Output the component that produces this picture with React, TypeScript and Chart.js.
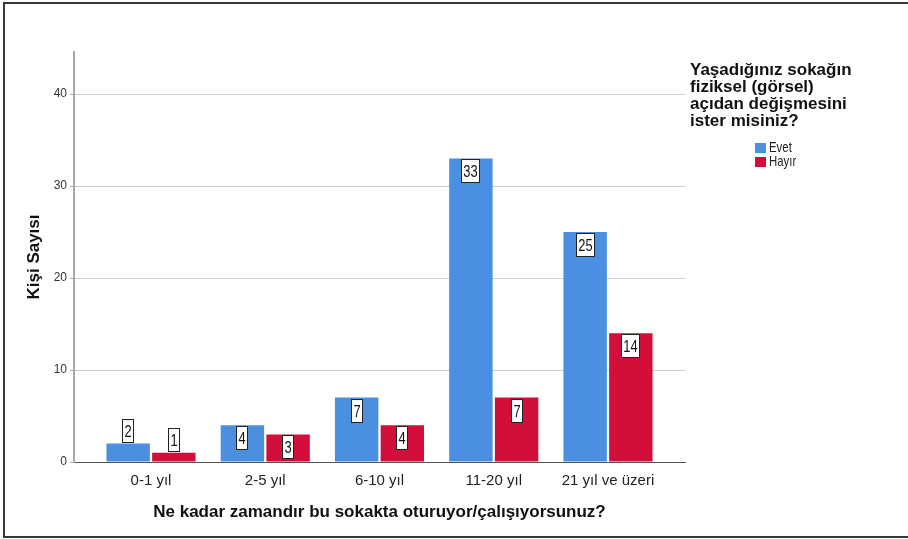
import React, { useEffect, useRef } from 'react';
import { Chart, registerables } from 'chart.js';

Chart.register(...registerables);

const categories = ['0-1 yıl', '2-5 yıl', '6-10 yıl', '11-20 yıl', '21 yıl ve üzeri'];
const evet = [2, 4, 7, 33, 25];
const hayir = [1, 3, 4, 7, 14];
const seriesNames = ['Evet', 'Hayır'];
const seriesColors = ['#4a8fe0', '#d10f3a'];
const yTicks = [0, 10, 20, 30, 40];
const legendTitle = ['Yaşadığınız sokağın', 'fiziksel (görsel)', 'açıdan değişmesini', 'ister misiniz?'];
const xTitle = 'Ne kadar zamandır bu sokakta oturuyor/çalışıyorsunuz?';
const yTitle = 'Kişi Sayısı';

const SANS = '"Liberation Sans", Arial, sans-serif';
const SQUEEZE = 0.76;

const boxLabels = {
  id: 'boxLabels',
  afterDatasetsDraw(chart: any) {
    const ctx = chart.ctx;
    ctx.save();
    ctx.font = '17px ' + SANS;
    ctx.textAlign = 'center';
    ctx.textBaseline = 'middle';
    chart.data.datasets.forEach((ds: any, di: number) => {
      const meta = chart.getDatasetMeta(di);
      meta.data.forEach((bar: any, i: number) => {
        const v = ds.data[i].y;
        const txt = String(v);
        const tw = ctx.measureText(txt).width * SQUEEZE;
        const w = Math.round(tw + 5);
        const h = 24;
        const { x, y, base } = bar.getProps(['x', 'y', 'base'], true);
        const top = Math.round(base - y >= h + 2 ? y + 1 : y - h - 1);
        const left = Math.round(x - w / 2);
        ctx.fillStyle = '#ffffff';
        ctx.fillRect(left, top, w, h);
        ctx.strokeStyle = '#222222';
        ctx.lineWidth = 1;
        ctx.strokeRect(left + 0.5, top + 0.5, w - 1, h - 1);
        ctx.fillStyle = '#111111';
        ctx.save();
        ctx.translate(left + w / 2, top + h / 2 + 1);
        ctx.scale(SQUEEZE, 1);
        ctx.fillText(txt, 0, 0);
        ctx.restore();
      });
    });
    ctx.restore();
  },
};

const sideLegend = {
  id: 'sideLegend',
  afterDraw(chart: any) {
    const ctx = chart.ctx;
    ctx.save();
    ctx.textAlign = 'left';
    ctx.textBaseline = 'middle';
    ctx.fillStyle = '#111111';
    ctx.font = 'bold 17px ' + SANS;
    legendTitle.forEach((t, i) => ctx.fillText(t, 690, 70 + i * 17));
    ctx.font = '15px ' + SANS;
    seriesNames.forEach((name, i) => {
      ctx.fillStyle = seriesColors[i];
      ctx.fillRect(755, 143 + i * 14, 11, 10);
      ctx.fillStyle = '#222222';
      ctx.save();
      ctx.translate(769, 148 + i * 14);
      ctx.scale(SQUEEZE, 1);
      ctx.fillText(name, 0, 0);
      ctx.restore();
    });
    ctx.restore();
  },
};

export default function App() {
  const ref = useRef<HTMLCanvasElement>(null);
  useEffect(() => {
    if (!ref.current) return;
    const chart = new Chart(ref.current, {
      type: 'bar',
      data: {
        datasets: [
          {
            label: seriesNames[0],
            data: evet.map((v, i) => ({ x: i, y: v })),
            backgroundColor: seriesColors[0],
            borderWidth: 0,
          },
          {
            label: seriesNames[1],
            data: hayir.map((v, i) => ({ x: i, y: v })),
            backgroundColor: seriesColors[1],
            borderWidth: 0,
          },
        ],
      },
      plugins: [boxLabels, sideLegend],
      options: {
        animation: false,
        responsive: false,
        devicePixelRatio: 1,
        categoryPercentage: 0.8,
        barPercentage: 0.95,
        layout: { padding: { left: 0, top: 52, right: 223, bottom: 0 } },
        plugins: { legend: { display: false }, tooltip: { enabled: false } },
        scales: {
          x: {
            type: 'linear',
            offset: false,
            min: -0.674,
            max: 4.674,
            afterBuildTicks: (s: any) => {
              s.ticks = categories.map((_, i) => ({ value: i }));
            },
            grid: { display: false, drawTicks: false, offset: false },
            border: { display: true, color: '#555555', width: 1 },
            ticks: {
              callback: (v: any) => categories[Math.round(Number(v))],
              padding: 10,
              autoSkip: false,
              maxRotation: 0,
              color: '#222222',
              font: { size: 15, family: SANS },
            },
            title: {
              display: true,
              text: xTitle,
              color: '#111111',
              font: { size: 17, weight: 'bold', family: SANS },
              padding: { top: 0, bottom: 16 },
            },
            afterFit: (s: any) => {
              s.height = 77;
            },
          },
          y: {
            min: 0,
            max: 44.57,
            afterBuildTicks: (s: any) => {
              s.ticks = yTicks.map((v) => ({ value: v }));
            },
            grid: {
              color: (c: any) => (c.tick && c.tick.value === 0 ? 'rgba(0,0,0,0)' : '#cccccc'),
              lineWidth: 1,
              drawTicks: true,
              tickLength: 4,
              tickColor: '#aaaaaa',
            },
            border: { display: true, color: '#a8a8a8', width: 2 },
            ticks: {
              padding: 3,
              color: '#333333',
              font: { size: 12, family: SANS },
            },
            title: {
              display: true,
              text: yTitle,
              color: '#111111',
              font: { size: 17, weight: 'bold', family: SANS },
              padding: { top: 24, bottom: 0 },
            },
            afterFit: (s: any) => {
              s.width = 74;
            },
          },
        },
      } as any,
    });
    return () => chart.destroy();
  }, []);

  return (
    <div style={{ position: 'fixed', left: 0, top: 0, width: 908, height: 539, background: '#fff' }}>
      <canvas ref={ref} width={908} height={539} style={{ position: 'absolute', left: 0, top: 0, width: 908, height: 539 }} />
      <div
        style={{
          position: 'absolute',
          left: 3,
          top: 2,
          width: 910,
          height: 532,
          borderLeft: '2px solid #3a3a3a',
          borderTop: '2px solid #3a3a3a',
          borderBottom: '2px solid #3a3a3a',
          pointerEvents: 'none',
        }}
      />
    </div>
  );
}
